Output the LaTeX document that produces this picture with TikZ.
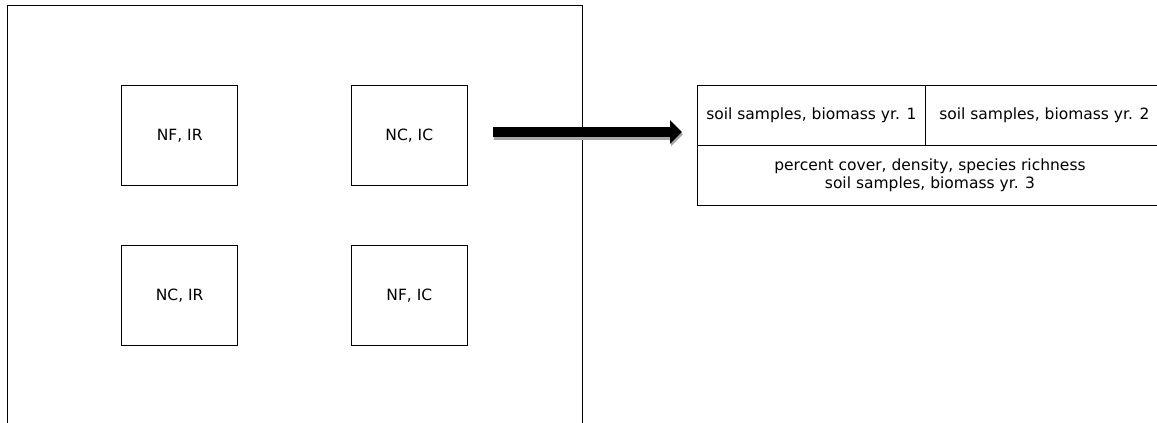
\documentclass[tikz,border=0pt]{standalone}
\usepackage{fontspec}
\setmainfont{DejaVu Sans}
\usetikzlibrary{arrows.meta}
\begin{document}
\begin{tikzpicture}[x=1pt,y=-1pt,
  plotbox/.style={draw, line width=1pt, minimum width=116pt, minimum height=99.6pt, inner sep=0pt, font=\fontsize{15.5}{18}\selectfont},
  cellbox/.style={draw, line width=1pt, inner sep=0pt, align=center, font=\fontsize{15.5}{18}\selectfont},
  bigarrow/.style={line width=10pt, -{Triangle[length=12pt,width=23pt]}}
]
\clip (0,0) rectangle (1157,423);
% field frame
\draw[line width=1pt] (7.6,430) -- (7.6,5) -- (582.9,5) -- (582.9,430);
% plots
\node[plotbox] (p1) at (179.7,135.5) {NF, IR};
\node[plotbox] (p2) at (409.3,135.5) {NC, IC};
\node[plotbox] (p3) at (179.7,295.4) {NC, IR};
\node[plotbox] (p4) at (409.3,295.4) {NF, IC};
% table
\node[cellbox, minimum width=228.7pt, minimum height=60pt] (c1) at (811.35,115.7) {soil samples, biomass yr. 1};
\node[cellbox, minimum width=237.3pt, minimum height=60pt] (c2) at (1044.35,115.7) {soil samples, biomass yr. 2};
\node[cellbox, minimum width=466pt, minimum height=59.3pt] (c3) at (930,175.35) {percent cover, density, species richness\\soil samples, biomass yr. 3};
% arrow
\coordinate (a0) at (493,132);
\coordinate (a1) at (682,132);
\coordinate (s0) at (494,134.5);
\coordinate (s1) at (683,134.5);
\draw[bigarrow, black!35] (s0) -- (s1);
\draw[bigarrow] (a0) -- (a1);
\end{tikzpicture}
\end{document}
